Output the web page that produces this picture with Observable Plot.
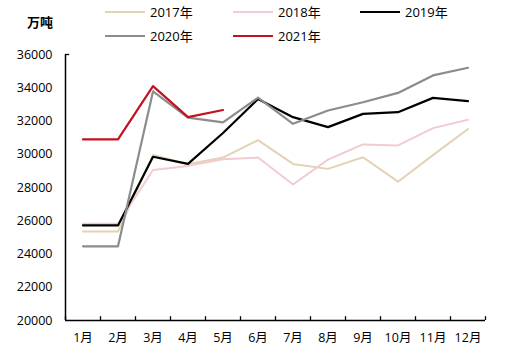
<!DOCTYPE html>
<html><head><meta charset="utf-8">
<script src="https://cdn.jsdelivr.net/npm/d3@7"></script>
<script src="https://cdn.jsdelivr.net/npm/@observablehq/plot@0.6"></script>
<style>
body{margin:0;background:#fff;font-family:"Open Sans","Noto Sans CJK SC",sans-serif;}
#wrap{position:relative;width:515px;height:355px;}
.lg{position:absolute;font-size:13px;color:#000;display:flex;align-items:center;}
.lg span.l{display:inline-block;width:40px;height:2px;margin-right:5px;}
#unit{position:absolute;left:27px;top:12px;font-size:13px;font-weight:bold;font-family:"Noto Sans CJK SC",sans-serif;}
</style></head><body>
<div id="wrap"><div id="unit">万吨</div></div>
<script>
const months = [1,2,3,4,5,6,7,8,9,10,11,12];
const monthLabels = ["1月","2月","3月","4月","5月","6月","7月","8月","9月","10月","11月","12月"];
const years = ["2017年","2018年","2019年","2020年","2021年"];
const colors = ["#e3d2b4","#f2cbd0","#000000","#8c8c8c","#c0121f"];
const widths = [2,2,2.2,2.2,2.2];
const v2017 = [25350,25350,29950,29400,29800,30850,29420,29120,29820,28350,29950,31520];
const v2018 = [25820,25820,29050,29300,29700,29800,28180,29680,30590,30530,31570,32070];
const v2019 = [25720,25720,29850,29420,31280,33320,32230,31630,32430,32530,33390,33190];
const v2020 = [24460,24460,33780,32200,31920,33400,31830,32630,33130,33690,34740,35200];
const v2021 = [30890,30890,34100,32230,32660];
const series = [v2017,v2018,v2019,v2020,v2021];
const yTicks = [20000,22000,24000,26000,28000,30000,32000,34000,36000];

const data = [];
series.forEach((s,i)=>s.forEach((v,j)=>data.push({year:years[i],month:months[j],value:v})));
const bounds = d3.range(0.5,13,1);

const marks = [
  Plot.ruleY([20000],{stroke:"#000",strokeWidth:1.5}),
  Plot.ruleX([0.5],{stroke:"#000",strokeWidth:1.5}),
  Plot.ruleX(bounds,{y1:20000,y2:20230,stroke:"#000",strokeWidth:1.3}),
  Plot.ruleY([36000],{x1:0.5,x2:0.62,stroke:"#000",strokeWidth:1.3}),
  Plot.axisY({ticks:yTicks,tickSize:0,tickPadding:13,tickFormat:d=>String(d),fontSize:12.5,label:null}),
  Plot.axisX({ticks:months,tickSize:0,tickPadding:13,tickFormat:d=>monthLabels[d-1],fontSize:12.5,label:null})
];
years.forEach((y,i)=>{
  marks.push(Plot.line(data.filter(d=>d.year===y),{x:"month",y:"value",stroke:colors[i],strokeWidth:widths[i]}));
});
const chart = Plot.plot({
  width:515,height:355,
  marginLeft:65,marginRight:30,marginTop:54,marginBottom:35,
  style:{fontFamily:'"Open Sans","Noto Sans CJK SC",sans-serif',color:"#000",background:"#fff"},
  x:{type:"linear",domain:[0.5,12.5],label:null},
  y:{domain:[20000,36000],label:null},
  marks
});
const wrap = document.getElementById("wrap");
wrap.insertBefore(chart, wrap.firstChild);
const pos = [[105,2],[233,2],[360,2],[105,26],[233,26]];
years.forEach((y,i)=>{
  const d = document.createElement("div");
  d.className="lg";
  d.style.left=pos[i][0]+"px"; d.style.top=pos[i][1]+"px";
  d.innerHTML=`<span class="l" style="background:${colors[i]}"></span><span>${y}</span>`;
  wrap.appendChild(d);
});
</script>
</body></html>
